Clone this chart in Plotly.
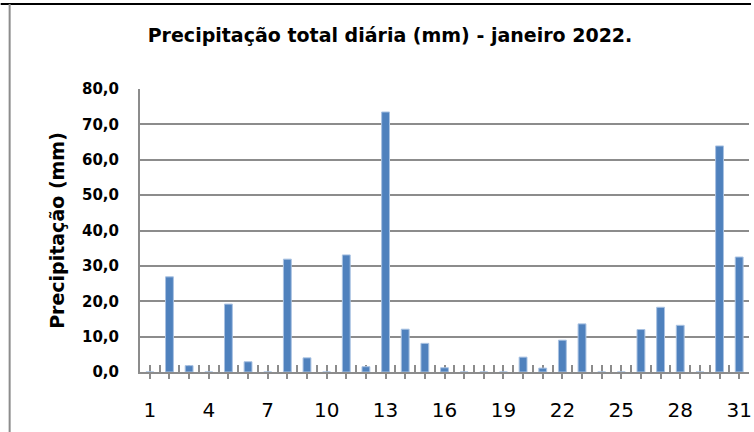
import plotly.graph_objects as go

days = list(range(1, 32))
precip = [0.0, 26.9, 1.8, 0.0, 19.2, 2.9, 0.0, 31.9, 4.0, 0.0,
          33.1, 1.5, 73.5, 12.1, 8.1, 1.2, 0.0, 0.0, 0.0, 4.2,
          1.1, 9.0, 13.6, 0.0, 0.0, 12.0, 18.3, 13.2, 0.0, 63.9, 32.5]
label_days = [1, 4, 7, 10, 13, 16, 19, 22, 25, 28, 31]
y_ticks = [0, 10, 20, 30, 40, 50, 60, 70, 80]

W, H = 754, 432
L, R, T, B = 140, 2, 89, 60
pw, ph = W - L - R, H - T - B

GRID = "#8C8C8C"
FONT = "DejaVu Sans"

ticktext = [str(d) if d in label_days else "" for d in days]
inner_ticks = sorted(days + [d + 0.5 for d in days[:-1]])
xr = [0.5, 31.5]

fig = go.Figure()
# dummy trace for the primary (inside-tick) axis
fig.add_trace(go.Scatter(x=[None], y=[None], xaxis="x", yaxis="y",
                         showlegend=False, hoverinfo="skip"))
fig.add_trace(go.Bar(x=days, y=precip, xaxis="x2", yaxis="y", width=0.4,
                     marker=dict(color="#4F81BD", line=dict(color="#A9C2E2", width=1)),
                     showlegend=False))

fig.update_layout(
    width=W, height=H,
    margin=dict(l=L, r=R, t=T, b=B, pad=0),
    paper_bgcolor="white", plot_bgcolor="white",
    separators=",.",
    title=dict(text="Precipitação total diária (mm) - janeiro 2022.",
               font=dict(family=FONT, size=19, color="black", weight="bold"),
               x=390 / W, xref="container", xanchor="center",
               y=1 - 35 / H, yref="container", yanchor="middle"),
    xaxis=dict(range=xr, tickmode="array", tickvals=inner_ticks,
               ticks="inside", ticklen=7, tickwidth=2, tickcolor=GRID,
               showticklabels=False, showgrid=False, zeroline=False,
               showline=True, linecolor=GRID, linewidth=2,
               layer="below traces", fixedrange=True),
    xaxis2=dict(range=xr, overlaying="x", anchor="y", side="bottom",
                tickmode="array", tickvals=days, ticktext=ticktext,
                ticks="outside", ticklen=6, tickwidth=2, tickcolor=GRID,
                ticklabelstandoff=14, ticklabeloverflow="allow",
                tickfont=dict(family=FONT, size=20, color="black"),
                showgrid=False, zeroline=False, showline=False),
    yaxis=dict(range=[0, 80], tickmode="array", tickvals=y_ticks, tickformat=".1f",
               tickfont=dict(family=FONT, size=15, color="black", weight="bold"),
               ticks="", ticklabelstandoff=16,
               showgrid=True, gridcolor=GRID, gridwidth=2,
               zeroline=False, showline=True, linecolor=GRID, linewidth=2,
               title=dict(text="Precipitação (mm)", standoff=12,
                          font=dict(family=FONT, size=19, color="black", weight="bold"))),
    shapes=[
        dict(type="line", xref="paper", yref="paper",
             x0=-L / pw, x1=(W - L) / pw, y0=(H - B - 4) / ph, y1=(H - B - 4) / ph,
             line=dict(color="black", width=2)),
        dict(type="line", xref="paper", yref="paper",
             x0=(9 - L) / pw, x1=(9 - L) / pw, y0=(H - B - 4) / ph, y1=-B / ph,
             line=dict(color="#8C8C8C", width=2)),
    ],
)

fig.write_html("out.html", config={"displayModeBar": False},
               post_script="document.body.style.margin='0px';")
